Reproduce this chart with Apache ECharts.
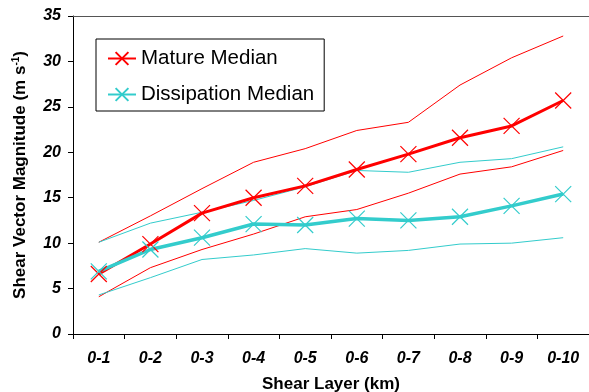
<!DOCTYPE html>
<html>
<head>
<meta charset="utf-8">
<script src="https://cdn.jsdelivr.net/npm/echarts@6/dist/echarts.min.js"></script>
<style>
  html, body { margin: 0; padding: 0; background: #fff; }
  #chart { width: 589px; height: 392px; }
</style>
</head>
<body>
<div id="chart"></div>
<script>
const layers = ["0-1", "0-2", "0-3", "0-4", "0-5", "0-6", "0-7", "0-8", "0-9", "0-10"]

const matureMedian = [6.6, 9.9, 13.3, 15.0, 16.3, 18.1, 19.8, 21.6, 22.9, 25.7]
const matureUpper = [10.1, 13.0, 16.0, 18.9, 20.4, 22.4, 23.3, 27.4, 30.4, 32.8]
const matureLower = [4.1, 7.3, 9.3, 11.0, 12.9, 13.7, 15.5, 17.6, 18.4, 20.2]

const dissMedian = [6.9, 9.3, 10.6, 12.1, 12.0, 12.7, 12.5, 12.9, 14.1, 15.4]
const dissUpper = [10.1, 12.2, 13.4, 14.7, 16.2, 18.0, 17.8, 18.9, 19.3, 20.6]
const dissLower = [4.3, 6.2, 8.2, 8.7, 9.4, 8.9, 9.2, 9.9, 10.0, 10.6]

const yTicks = ["0", "5", "10", "15", "20", "25", "30", "35"]

const RED = "#ff0000"
const CYAN = "#33cccc"
const CROSS = "path://M0,0L10,10M10,0L0,10"
const font = "Liberation Sans, Arial, sans-serif"

const chart = echarts.init(document.getElementById("chart"), null, { renderer: "canvas" })

const median = (name, data, color, width) => ({
  name,
  type: "line",
  data,
  symbol: CROSS,
  symbolSize: 16,
  lineStyle: { color, width },
  itemStyle: { color: "transparent", borderColor: color, borderWidth: 1.2 },
  z: 3,
})

const thin = (data, color) => ({
  type: "line",
  data,
  symbol: "none",
  lineStyle: { color, width: 1 },
  z: 2,
})

chart.setOption({
  animation: false,
  backgroundColor: "#fff",
  grid: { left: 73, top: 16, right: 0, bottom: 58, outerBoundsMode: "none" },
  legend: {
    data: ["Mature Median", "Dissipation Median"],
    orient: "vertical",
    left: 96,
    top: 39,
    padding: [9, 10, 6, 11],
    itemGap: 15,
    itemWidth: 28,
    itemHeight: 16,
    borderColor: "#000",
    borderWidth: 1,
    textStyle: { fontFamily: font, fontSize: 20.5, color: "#000" },
  },
  xAxis: [
    {
      type: "category",
      data: layers,
      boundaryGap: true,
      name: "Shear Layer (km)",
      nameLocation: "middle",
      nameGap: 42,
      nameTextStyle: { fontFamily: font, fontSize: 17, fontWeight: "bold", color: "#000" },
      axisLine: { lineStyle: { color: "#000", width: 1 } },
      axisTick: { show: true, length: 5, lineStyle: { color: "#000" } },
      axisLabel: { fontFamily: font, fontSize: 16, fontWeight: "bold", fontStyle: "italic", color: "#000", margin: 17 },
      splitLine: { show: false },
    },
    {
      type: "category",
      data: layers,
      position: "top",
      axisLine: { show: true, lineStyle: { color: "#555", width: 1 } },
      axisTick: { show: false },
      axisLabel: { show: false },
    },
  ],
  yAxis: {
    type: "value",
    min: 0,
    max: 35,
    interval: 5,
    name: "{a|Shear Vector Magnitude (m s}{s|-1}{a|)}",
    nameLocation: "middle",
    nameGap: 43,
    nameTextStyle: {
      rich: {
        a: { fontFamily: font, fontSize: 17, fontWeight: "bold", color: "#000" },
        s: { fontFamily: font, fontSize: 10, fontWeight: "bold", color: "#000", verticalAlign: "top", padding: [0, 0, 9, 0] },
      },
    },
    axisLine: { show: true, lineStyle: { color: "#000", width: 1 } },
    axisTick: { show: true, length: 5, lineStyle: { color: "#000" } },
    axisLabel: {
      fontFamily: font,
      fontSize: 16,
      fontWeight: "bold",
      fontStyle: "italic",
      color: "#000",
      margin: 12,
      formatter: (v) => yTicks[v / 5],
    },
    splitLine: { show: false },
  },
  series: [
    thin(matureUpper, RED),
    thin(matureLower, RED),
    thin(dissUpper, CYAN),
    thin(dissLower, CYAN),
    median("Mature Median", matureMedian, RED, 3),
    median("Dissipation Median", dissMedian, CYAN, 3.5),
  ],
})
</script>
</body>
</html>
